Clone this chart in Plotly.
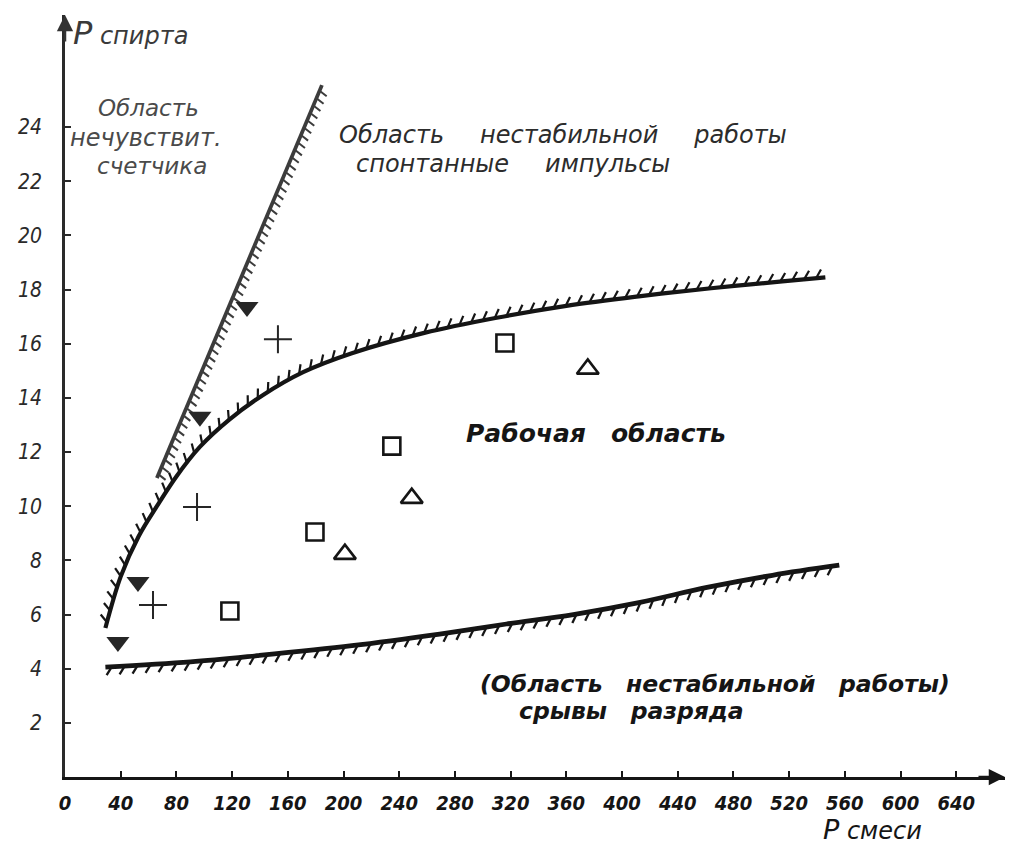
import numpy as np
import plotly.graph_objects as go

# ---- boundary curves: p_смеси (x) vs p_спирта (y) ----
upper_x = [29, 40, 53, 66, 80, 97, 118, 142, 171, 206, 258, 309, 360, 412, 464, 515, 546]
upper_y = [5.5, 7.4, 8.9, 10.0, 11.1, 12.2, 13.2, 14.1, 14.95, 15.65, 16.4, 16.95, 17.4, 17.75, 18.05, 18.3, 18.45]

lower_x = [29, 90, 138, 206, 269, 317, 365, 413, 461, 508, 556]
lower_y = [4.06, 4.25, 4.48, 4.85, 5.28, 5.65, 6.0, 6.45, 7.0, 7.45, 7.82]

steep_x = [66, 184.5]
steep_y = [11.04, 25.55]

# ---- measured points ----
tri_down_x = [38, 52.4, 96.9, 130.7]
tri_down_y = [4.99, 7.2, 13.3, 17.36]

cross_x = [63.2, 94.8, 152.9]
cross_y = [6.35, 9.97, 16.17]

square_x = [118.4, 179.5, 234.7, 315.9]
square_y = [6.13, 9.05, 12.22, 16.03]

tri_up_x = [201, 249, 375.4]
tri_up_y = [8.23, 10.3, 15.07]

x_ticks = list(range(0, 641, 40))
y_ticks = list(range(2, 25, 2))

# ---- figure geometry ----
W, H = 1015, 850
ML, MR, MT, MB = 65, 10, 15, 73
X_MAX, Y_MAX = 675, 28.14
PW, PH = W - ML - MR, H - MT - MB
SX, SY = PW / X_MAX, PH / Y_MAX

INK = "#151515"
GREY = "#3c3c3c"
FONT = "DejaVu Sans"
FONT_C = "DejaVu Sans Condensed"


def to_px(x, y):
    return np.column_stack([np.asarray(x) * SX, -np.asarray(y) * SY])


def to_data(p):
    return p[:, 0] / SX, -p[:, 1] / SY


def catmull_rom(P, n=24):
    pts = np.vstack([P[0], P, P[-1]])
    out = []
    for i in range(1, len(pts) - 2):
        p0, p1, p2, p3 = pts[i - 1], pts[i], pts[i + 1], pts[i + 2]
        for t in np.linspace(0, 1, n, endpoint=False):
            t2, t3 = t * t, t * t * t
            out.append(0.5 * ((2 * p1) + (-p0 + p2) * t
                              + (2 * p0 - 5 * p1 + 4 * p2 - p3) * t2
                              + (-p0 + 3 * p1 - 3 * p2 + p3) * t3))
    out.append(P[-1])
    return np.array(out)


def hatch_segments(xs, ys, spacing, length, side, lean_deg):
    """Short hatch strokes along a boundary, returned in data units."""
    P = catmull_rom(to_px(xs, ys))
    seg = np.diff(P, axis=0)
    s = np.concatenate([[0], np.cumsum(np.hypot(seg[:, 0], seg[:, 1]))])
    hx, hy = [], []
    lean = np.radians(lean_deg)
    for d in np.arange(spacing * 0.5, s[-1], spacing):
        i = int(np.clip(np.searchsorted(s, d) - 1, 0, len(seg) - 1))
        f = (d - s[i]) / max(s[i + 1] - s[i], 1e-9)
        p = P[i] + f * seg[i]
        t = seg[i] / np.hypot(*seg[i])
        n = np.array([t[1], -t[0]]) * side
        v = np.cos(lean) * n + np.sin(lean) * t
        q = np.vstack([p, p + length * v])
        qx, qy = to_data(q)
        hx += list(qx) + [None]
        hy += list(qy) + [None]
    return hx, hy


fig = go.Figure()

# boundaries
fig.add_trace(go.Scatter(x=steep_x, y=steep_y, mode="lines",
                         line=dict(color=GREY, width=3.8)))
fig.add_trace(go.Scatter(x=upper_x, y=upper_y, mode="lines",
                         line=dict(color=INK, width=4.2, shape="spline", smoothing=1)))
fig.add_trace(go.Scatter(x=lower_x, y=lower_y, mode="lines",
                         line=dict(color=INK, width=4.8, shape="spline", smoothing=1)))

# hatching on the boundaries
for xs, ys, sp, ln, side, lean, col, w in [
    (steep_x, steep_y, 8, 9, -1, -15, GREY, 2.0),
    (upper_x, upper_y, 12, 10, 1, 35, INK, 2.2),
    (lower_x, lower_y, 13, 10, -1, -35, INK, 2.3),
]:
    hx, hy = hatch_segments(xs, ys, sp, ln, side, lean)
    fig.add_trace(go.Scatter(x=hx, y=hy, mode="lines",
                             line=dict(color=col, width=w)))

# measured points
fig.add_trace(go.Scatter(x=tri_down_x, y=tri_down_y, mode="markers",
                         marker=dict(symbol="triangle-down", size=20, color="#262626",
                                     line=dict(width=0))))
fig.add_trace(go.Scatter(x=cross_x, y=cross_y, mode="markers",
                         marker=dict(symbol="cross-thin-open", size=20, color="#262626",
                                     line=dict(width=2, color="#262626"))))
fig.add_trace(go.Scatter(x=square_x, y=square_y, mode="markers",
                         marker=dict(symbol="square-open", size=17, color=INK,
                                     line=dict(width=2.6, color=INK))))
fig.add_trace(go.Scatter(x=tri_up_x, y=tri_up_y, mode="markers",
                         marker=dict(symbol="triangle-up-open", size=19, color=INK,
                                     line=dict(width=2.6, color=INK))))

sp3 = "\u2002\u2002\u2002"
it = dict(family=FONT, style="italic")
annotations = [
    dict(x=59.6, y=24.7, text="Область", font=dict(size=23, color="#4a4a4a", **it)),
    dict(x=58.5, y=23.6, text="нечувствит.", font=dict(size=24, color="#4a4a4a", **it)),
    dict(x=62.5, y=22.55, text="счетчика", font=dict(size=23, color="#4a4a4a", **it)),
    dict(x=357.5, y=23.7, text=f"Область{sp3}нестабильной{sp3}работы",
         font=dict(size=24, color="#2c2c2c", **it)),
    dict(x=322, y=22.65, text=f"спонтанные{sp3}импульсы",
         font=dict(size=24, color="#2c2c2c", **it)),
    dict(x=381, y=12.7, text="Рабочая\u2002\u2002область",
         font=dict(size=25, color=INK, weight="bold", **it)),
    dict(x=466.6, y=3.45, text="(Область\u2002\u2002нестабильной\u2002\u2002работы)",
         font=dict(size=23.5, color=INK, weight="bold", **it)),
    dict(x=407, y=2.42, text="срывы\u2002\u2002разряда",
         font=dict(size=23.5, color=INK, weight="bold", **it)),
]
for a in annotations:
    a.update(xref="x", yref="y", showarrow=False, xanchor="center", yanchor="middle")

# axis titles placed just outside the plotting area
annotations.append(dict(x=0.006, y=0.976, xref="paper", yref="paper",
                        xanchor="left", yanchor="middle", showarrow=False,
                        text="<span style='font-size:32px'>Р</span> спирта",
                        font=dict(size=24, color="#3a3a3a", **it)))
annotations.append(dict(x=0.804, y=-0.0925, xref="paper", yref="paper",
                        xanchor="left", yanchor="bottom", showarrow=False,
                        text="<span style='font-size:27px'>Р</span> смеси",
                        font=dict(size=24, color=INK, **it)))

# axis arrows
annotations.append(dict(x=X_MAX, y=0, xref="x", yref="y", ax=-28, ay=0,
                        showarrow=True, arrowhead=2, arrowsize=1.3, arrowwidth=2.5,
                        arrowcolor=INK, text=""))
annotations.append(dict(x=0, y=Y_MAX, xref="x", yref="y", ax=0, ay=28,
                        showarrow=True, arrowhead=2, arrowsize=1.3, arrowwidth=2.5,
                        arrowcolor="#333", text=""))

fig.update_layout(
    width=W, height=H,
    margin=dict(l=ML, r=MR, t=MT, b=MB),
    paper_bgcolor="white", plot_bgcolor="white",
    showlegend=False,
    annotations=annotations,
    xaxis=dict(range=[0, X_MAX], showgrid=False, zeroline=False,
               showline=True, linecolor=INK, linewidth=2.5,
               ticks="inside", ticklen=6, tickwidth=2, tickcolor=INK,
               tickvals=x_ticks, ticktext=[str(v) for v in x_ticks],
               ticklabelstandoff=6,
               tickfont=dict(family=FONT_C, size=20, color=INK,
                             style="italic", weight="bold")),
    yaxis=dict(range=[0, Y_MAX], showgrid=False, zeroline=False,
               showline=True, linecolor="#2a2a2a", linewidth=2.5,
               ticks="inside", ticklen=6, tickwidth=2, tickcolor="#2a2a2a",
               tickvals=y_ticks, ticktext=[str(v) for v in y_ticks],
               ticklabelstandoff=16,
               tickfont=dict(family=FONT_C, size=21, color="#2a2a2a",
                             style="italic")),
)

fig.write_html("out.html")
